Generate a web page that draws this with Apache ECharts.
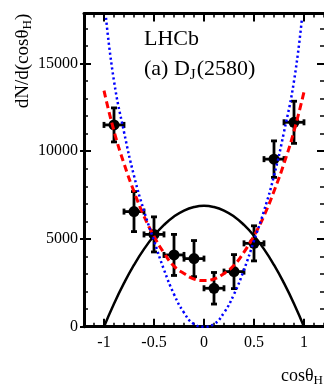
<!DOCTYPE html>
<html>
<head>
<meta charset="utf-8">
<script src="https://cdn.jsdelivr.net/npm/echarts@6/dist/echarts.min.js"></script>
<style>html,body{margin:0;padding:0;background:#fff;}#c{width:324px;height:386px;}</style>
</head>
<body>
<div id="c"></div>
<script>
// ---- data ----
var ptX = [-0.9, -0.7, -0.5, -0.3, -0.1, 0.1, 0.3, 0.5, 0.7, 0.9];
var ptY = [11500, 6560, 5260, 4090, 3880, 2190, 3140, 4750, 9550, 11650];
var ptYErr = [970, 1140, 1000, 1170, 1030, 900, 970, 1000, 1040, 1200];
var ptXErr = [0.1, 0.1, 0.1, 0.1, 0.1, 0.1, 0.1, 0.1, 0.1, 0.1];

var curveX = [-1, -0.9, -0.8, -0.7, -0.6, -0.5, -0.4, -0.3, -0.2, -0.1, 0, 0.1, 0.2, 0.3, 0.4, 0.5, 0.6, 0.7, 0.8, 0.9, 1];
var blackY = [0, 1310, 2480, 3520, 4420, 5180, 5800, 6280, 6620, 6820, 6890, 6820, 6620, 6280, 5800, 5180, 4420, 3520, 2480, 1310, 0];
var redY = [13450, 11150, 9300, 7700, 6300, 5150, 4200, 3450, 3030, 2720, 2630, 2720, 3030, 3500, 4250, 5180, 6320, 7720, 9300, 11150, 13380];
var blueX = [-0.98, -0.9, -0.8, -0.7, -0.6, -0.5, -0.4, -0.3, -0.2, -0.1, 0, 0.1, 0.2, 0.3, 0.4, 0.5, 0.6, 0.7, 0.8, 0.9, 0.98];
var blueY = [17600, 14000, 11100, 8600, 6600, 4900, 3250, 1850, 800, 150, 0, 150, 800, 1850, 3250, 4900, 6600, 8600, 11100, 14000, 17600];

var xMajor = [-1, -0.5, 0, 0.5, 1];
var yMajor = [0, 5000, 10000, 15000];

// ---- build ----
function zip(a, b) { return a.map(function (v, i) { return [v, b[i]]; }); }
var FONT = '"Liberation Serif", "Times New Roman", serif';
var ptData = ptX.map(function (v, i) { return [v, ptY[i], ptXErr[i], ptYErr[i]]; });

var chart = echarts.init(document.getElementById('c'), null, { renderer: 'canvas' });

var xBase = { type: 'value', min: -1.2, max: 1.2, gridIndex: 0, splitLine: { show: false } };
var yBase = { type: 'value', min: 0, max: 17850, gridIndex: 0, splitLine: { show: false } };
function ext(a, b) { var o = {}; for (var k in a) o[k] = a[k]; for (var k2 in b) o[k2] = b[k2]; return o; }

var lineStyleAxis = { color: '#000', width: 3 };

var option = {
  animation: false,
  backgroundColor: '#fff',
  grid: { left: 84, right: -3, top: 13.5, bottom: 59.3, containLabel: false },
  xAxis: [
    ext(xBase, { position: 'bottom', axisLine: { show: true, lineStyle: lineStyleAxis, onZero: false },
      axisTick: { show: true, inside: true, length: 8, customValues: xMajor, lineStyle: { color: '#000', width: 2 } },
      axisLabel: { show: true, customValues: xMajor, margin: 8, color: '#000', fontSize: 16, fontFamily: FONT,
        formatter: function (v) { return String(v); } } }),
    ext(xBase, { position: 'bottom', interval: 0.1, axisLine: { show: false, onZero: false },
      axisTick: { show: true, inside: true, length: 4, lineStyle: { color: '#000', width: 1.5 } },
      axisLabel: { show: false } }),
    ext(xBase, { position: 'top', axisLine: { show: true, lineStyle: lineStyleAxis, onZero: false },
      axisTick: { show: true, inside: true, length: 8, customValues: xMajor, lineStyle: { color: '#000', width: 2 } },
      axisLabel: { show: false } }),
    ext(xBase, { position: 'top', interval: 0.1, axisLine: { show: false, onZero: false },
      axisTick: { show: true, inside: true, length: 4, lineStyle: { color: '#000', width: 1.5 } },
      axisLabel: { show: false } })
  ],
  yAxis: [
    ext(yBase, { position: 'left', axisLine: { show: true, lineStyle: lineStyleAxis, onZero: false },
      axisTick: { show: true, inside: false, length: 4, customValues: yMajor, lineStyle: { color: '#000', width: 2 } },
      axisLabel: { show: true, customValues: yMajor, margin: 6, color: '#000', fontSize: 16, fontFamily: FONT,
        formatter: function (v) { return String(v); } } }),
    ext(yBase, { position: 'left', interval: 1000, axisLine: { show: false, onZero: false },
      axisTick: { show: true, inside: true, length: 4, lineStyle: { color: '#000', width: 1.5 } },
      axisLabel: { show: false } }),
    ext(yBase, { position: 'left', axisLine: { show: false, onZero: false },
      axisTick: { show: true, inside: true, length: 7, customValues: yMajor, lineStyle: { color: '#000', width: 2 } },
      axisLabel: { show: false } }),
    ext(yBase, { position: 'right', axisLine: { show: false, onZero: false },
      axisTick: { show: true, inside: true, length: 7, customValues: yMajor, lineStyle: { color: '#000', width: 2 } },
      axisLabel: { show: false } }),
    ext(yBase, { position: 'right', interval: 1000, axisLine: { show: false, onZero: false },
      axisTick: { show: true, inside: true, length: 4, lineStyle: { color: '#000', width: 1.5 } },
      axisLabel: { show: false } })
  ],
  series: [
    {
      type: 'custom', xAxisIndex: 0, yAxisIndex: 0, z: 2, clip: false,
      data: ptData,
      encode: { x: 0, y: 1 },
      renderItem: function (params, api) {
        var x = api.value(0), y = api.value(1), ex = api.value(2), ey = api.value(3);
        var l = api.coord([x - ex, y]), r = api.coord([x + ex, y]);
        var t = api.coord([x, y + ey]), b = api.coord([x, y - ey]);
        var st = { stroke: '#000', lineWidth: 2.8, fill: null };
        var cap = 3;
        return { type: 'group', children: [
          { type: 'line', shape: { x1: l[0], y1: l[1], x2: r[0], y2: r[1] }, style: st },
          { type: 'line', shape: { x1: t[0], y1: t[1], x2: b[0], y2: b[1] }, style: st },
          { type: 'line', shape: { x1: t[0] - cap, y1: t[1], x2: t[0] + cap, y2: t[1] }, style: st },
          { type: 'line', shape: { x1: b[0] - cap, y1: b[1], x2: b[0] + cap, y2: b[1] }, style: st },
          { type: 'line', shape: { x1: l[0], y1: l[1] - cap, x2: l[0], y2: l[1] + cap }, style: st },
          { type: 'line', shape: { x1: r[0], y1: r[1] - cap, x2: r[0], y2: r[1] + cap }, style: st }
        ] };
      }
    },
    {
      type: 'scatter', xAxisIndex: 0, yAxisIndex: 0, z: 3,
      data: zip(ptX, ptY), symbol: 'circle', symbolSize: 11,
      itemStyle: { color: '#000', opacity: 1 }
    },
    {
      type: 'line', xAxisIndex: 0, yAxisIndex: 0, z: 4, data: zip(curveX, blackY),
      showSymbol: false, symbol: 'none', smooth: true,
      lineStyle: { color: '#000', width: 2.5, type: 'solid' }
    },
    {
      type: 'line', xAxisIndex: 0, yAxisIndex: 0, z: 5, data: zip(curveX, redY),
      showSymbol: false, symbol: 'none', smooth: true,
      lineStyle: { color: '#ff0000', width: 3, type: [7, 4] }
    },
    {
      type: 'line', xAxisIndex: 0, yAxisIndex: 0, z: 6, data: zip(blueX, blueY),
      showSymbol: false, symbol: 'none', smooth: true,
      lineStyle: { color: '#0000ff', width: 2.5, type: [2.2, 2.8] }
    }
  ],
  graphic: [
    { type: 'text', x: 144, y: 39.5, z: 10,
      style: { text: 'LHCb', font: '22px ' + FONT, fill: '#000', align: 'left', verticalAlign: 'middle' } },
    { type: 'text', x: 144, y: 69.5, z: 10,
      style: { text: '{m|(a) D}{s|J}{m|(2580)}', align: 'left', verticalAlign: 'middle',
        rich: { m: { fontSize: 22, fontFamily: FONT, fill: '#000', color: '#000' },
                s: { fontSize: 15, fontFamily: FONT, color: '#000', padding: [12, 1, 0, 0] } } } },
    { type: 'text', x: 23, y: 61, rotation: Math.PI / 2, z: 10,
      style: { text: '{m|dN/d(cos\u03B8}{s|H}{m|)}', align: 'center', verticalAlign: 'middle',
        rich: { m: { fontSize: 19, fontFamily: FONT, color: '#000' },
                s: { fontSize: 13, fontFamily: FONT, color: '#000', padding: [10, 0, 0, 0] } } } },
    { type: 'text', x: 281, y: 376, z: 10,
      style: { text: '{m|cos\u03B8}{s|H}', align: 'left', verticalAlign: 'middle',
        rich: { m: { fontSize: 18, fontFamily: FONT, color: '#000' },
                s: { fontSize: 13, fontFamily: FONT, color: '#000', padding: [10, 0, 0, 0] } } } }
  ]
};
chart.setOption(option);
</script>
</body>
</html>
